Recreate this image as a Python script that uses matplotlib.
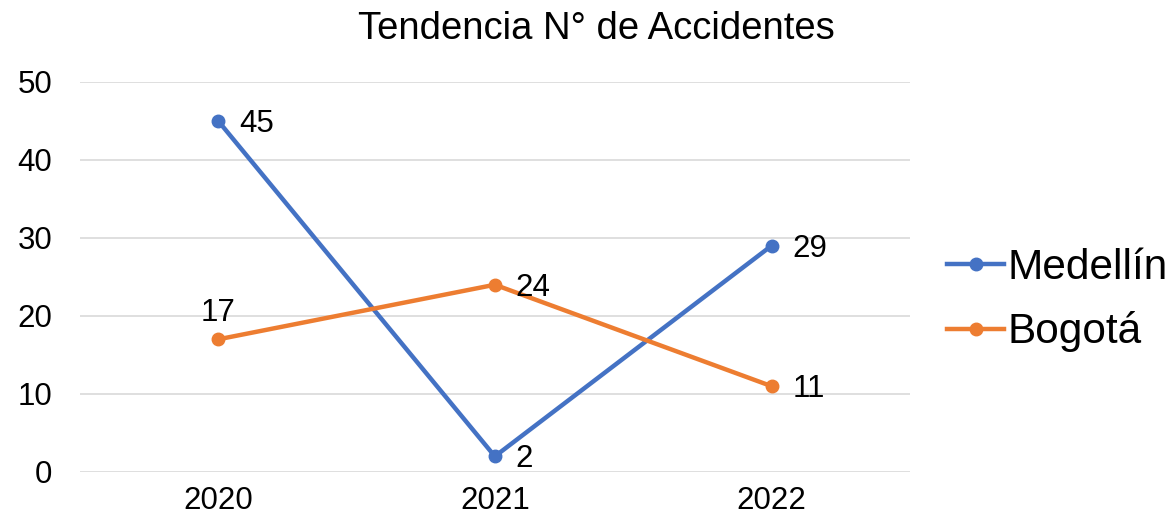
import matplotlib
matplotlib.use("Agg")
import matplotlib.pyplot as plt

plt.rcParams['font.family'] = ['Liberation Sans', 'DejaVu Sans']

years = ["2020", "2021", "2022"]
medellin = [45, 2, 29]
bogota = [17, 24, 11]
title = "Tendencia N° de Accidentes"

blue = "#4472C4"
orange = "#ED7D31"

fig = plt.figure(figsize=(11.74, 5.25), dpi=100)
ax = fig.add_axes([0.068, 0.101, 0.707, 0.743])

x = list(range(len(years)))
l1, = ax.plot(x, medellin, color=blue, lw=3.2, marker='o', ms=9, label="Medellín")
l2, = ax.plot(x, bogota, color=orange, lw=3.2, marker='o', ms=9, label="Bogotá")

# data labels
fs = 22.5
for xi, v in zip(x, medellin):
    ax.annotate(str(v), (xi, v), xytext=(15, -2), textcoords='offset points',
                ha='left', va='center', fontsize=fs)
for xi, v in zip(x, bogota):
    if xi == 0:
        ax.annotate(str(v), (xi, v), xytext=(0, 8), textcoords='offset points',
                    ha='center', va='bottom', fontsize=fs)
    else:
        ax.annotate(str(v), (xi, v), xytext=(15, -2), textcoords='offset points',
                    ha='left', va='center', fontsize=fs)

ax.set_xlim(-0.5, 2.5)
ax.set_ylim(0, 50)
ax.set_yticks(range(0, 51, 10))
ax.set_xticks(x)
ax.set_xticklabels(years)
ax.tick_params(length=0, labelsize=fs, pad=10)
ax.tick_params(axis='y', pad=20)
ax.grid(axis='y', color='#d9d9d9', lw=1.2)
ax.set_axisbelow(True)
for s in ax.spines.values():
    s.set_visible(False)

fig.text(0.508, 0.945, title, ha='center', va='center', fontsize=27.5)

fig.legend(handles=[l1, l2], loc='center left', bbox_to_anchor=(0.807, 0.428),
           frameon=False, fontsize=30.5, handlelength=1.34, handletextpad=0.07,
           labelspacing=0.55, borderaxespad=0, borderpad=0)

fig.savefig("out.png", dpi=100)
